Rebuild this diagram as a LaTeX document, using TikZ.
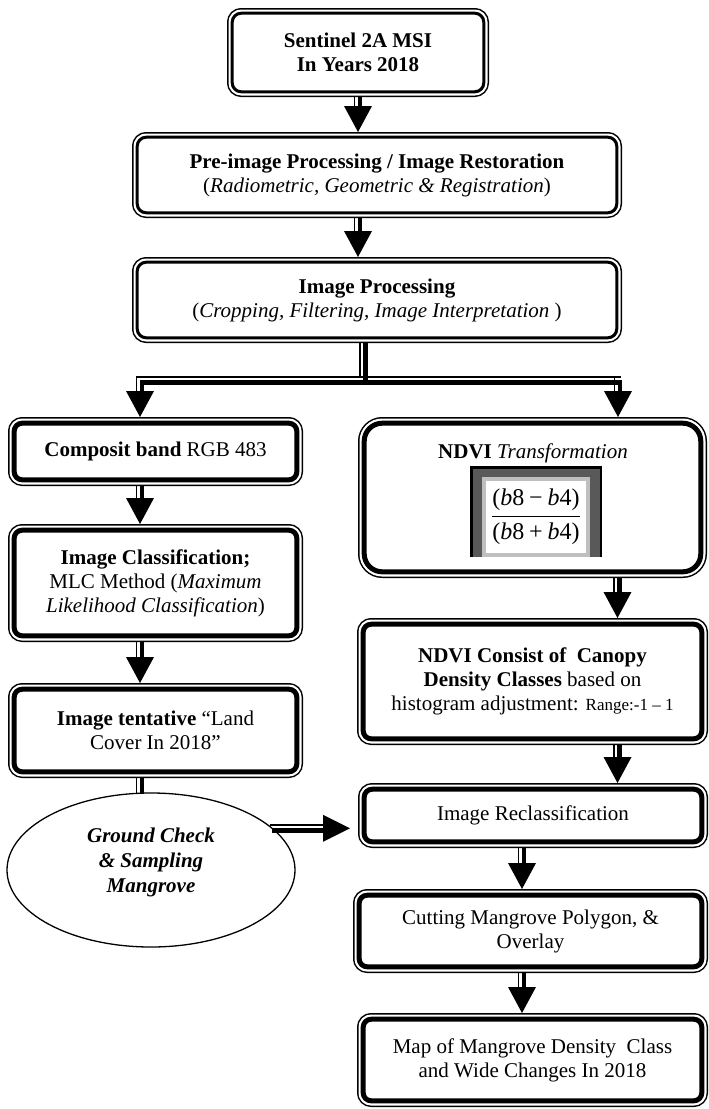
\documentclass[tikz,border=0pt]{standalone}
\usepackage{fontspec}
\setmainfont{Liberation Serif}
\usetikzlibrary{calc,shapes.geometric}
\newcommand\varr[2]{%
  \draw[thinstem] ($(#1)+(-3.5,0)$) -- ($(#2)+(-3.5,-25)$);
  \draw[thickstem] ($(#1)+(2,0)$) -- ($(#2)+(2,-25)$);
  \fill ($(#2)+(-14,-26)$) -- ($(#2)+(14,-26)$) -- (#2) -- cycle;
}
\begin{document}
\begin{tikzpicture}[x=1pt,y=-1pt,
  font=\fontsize{21}{24}\selectfont,
  medbox/.style={draw=black, fill=white, line width=3pt, rounded corners=9pt,
     inner sep=0pt, outer sep=5.2pt, align=center,
     preaction={draw=black, line width=10.4pt},
     preaction={draw=white, line width=7.4pt}},
  thkbox/.style={draw=black, fill=white, line width=5pt, rounded corners=8pt,
     inner sep=0pt, outer sep=6.2pt, align=center,
     preaction={draw=black, line width=12.4pt},
     preaction={draw=white, line width=9.4pt}},
  thinstem/.style={line width=1.4pt},
  thickstem/.style={line width=4.5pt},
]
\useasboundingbox (0,0) rectangle (709,1109);
\fill[white] (0,0) rectangle (709,1109);

% boxes
\node[medbox, minimum width=251.6, minimum height=78.6] (b1) at (358,52.5)
  {\textbf{Sentinel 2A MSI}\\\textbf{In Years 2018}};
\node[medbox, minimum width=479.6, minimum height=75.6] (b2) at (377,175)
  {\textbf{Pre-image Processing / Image Restoration}\\(\textit{Radiometric, Geometric \& Registration})};
\node[medbox, minimum width=479.6, minimum height=75.6] (b3) at (377,300)
  {\textbf{Image Processing}\\(\textit{Cropping, Filtering, Image Interpretation} )};

\node[thkbox, minimum width=282.6, minimum height=56.6] (cb) at (155.5,451.5)
  {\textbf{Composit band} RGB 483};
\node[thkbox, minimum width=282.6, minimum height=105.6] (ic) at (155.5,583)
  {\textbf{Image Classification;}\\MLC Method (\textit{Maximum}\\\textit{Likelihood Classification})};
\node[thkbox, minimum width=282.6, minimum height=82.6] (it) at (155.5,730.5)
  {\textbf{Image tentative} “Land\\Cover In 2018”};

\node[thkbox, rounded corners=18pt, minimum width=336.6, minimum height=148.6] (nd) at (532.5,497.5) {};
\node (ndt) at (533,453) {\textbf{NDVI} \textit{Transformation}};
\fill[black] (470,466) rectangle (602,557);
\fill[black!65] (472.5,468.5) rectangle (599.5,557);
\fill[black!25] (482,477) rectangle (590,557);
\fill[white] (486,481) rectangle (586,553);
\node (frac) at (536,517) {\fontsize{24}{28}\selectfont
  $\displaystyle\frac{\mbox{(\textit{b}8\hspace{0.2em}−\hspace{0.2em}\textit{b}4)}}{\mbox{(\textit{b}8\hspace{0.2em}+\hspace{0.2em}\textit{b}4)}}$};

\node[thkbox, minimum width=338.6, minimum height=114.6] (nc) at (532.5,681.5)
  {\textbf{NDVI Consist of~ Canopy}\\\textbf{Density Classes} based on\\histogram adjustment: {\fontsize{17}{24}\selectfont Range:-1 – 1}};
\node[thkbox, minimum width=337.6, minimum height=52.6] (rc) at (533,815.5)
  {Image Reclassification};
\node[thkbox, minimum width=342.6, minimum height=71.6] (cut) at (530.5,931)
  {Cutting Mangrove Polygon, \&\\Overlay};
\node[thkbox, minimum width=338.6, minimum height=81.6] (map) at (532.5,1060)
  {Map of Mangrove Density~ Class\\and Wide Changes In 2018};

\node[draw, ellipse, line width=1.3pt, fill=white, minimum width=288, minimum height=154,
  inner sep=0pt, outer sep=0pt] (gc) at (151,870) {};
\node[font=\fontsize{21}{25}\selectfont\bfseries\itshape, align=center] (gct) at (151,862)
  {Ground Check\\\& Sampling\\Mangrove};

% x positions
\coordinate (x358) at (358,0);
\coordinate (x140) at (140,0);
\coordinate (x617) at (617.5,0);
\coordinate (x522) at (522,0);
\coordinate (sx) at (363.5,0);

% vertical arrows
\varr{b1.south -| x358}{b2.north -| x358}
\varr{b2.south -| x358}{b3.north -| x358}
\varr{cb.south -| x140}{ic.north -| x140}
\varr{ic.south -| x140}{it.north -| x140}
\varr{nd.south -| x617}{nc.north -| x617}
\varr{nc.south -| x617}{rc.north -| x617}
\varr{rc.south -| x522}{cut.north -| x522}
\varr{cut.south -| x522}{map.north -| x522}

% split connector
\coordinate (jL) at (140,377);
\coordinate (jR) at (618,377);
\draw[thinstem] ($(b3.south -| sx)+(-3.5,0)$) -- ($(jL -| sx)+(-3.5,0)$);
\draw[thickstem] ($(b3.south -| sx)+(2,0)$) -- ($(jL -| sx)+(2,5.5)$);
\draw[thinstem] ($(jL)+(-4.2,0)$) -- ($(jR)+(3,0)$);
\draw[line width=5pt] ($(jL)+(-0.25,5.5)$) -- ($(jR)+(4.25,5.5)$);
\draw[thinstem] ($(jL)+(-3.5,-0.7)$) -- ($(cb.north -| jL)+(-3.5,-25)$);
\draw[thickstem] ($(jL)+(2,5.5)$) -- ($(cb.north -| jL)+(2,-25)$);
\fill ($(cb.north -| jL)+(-14,-26)$) -- ($(cb.north -| jL)+(14,-26)$) -- (cb.north -| jL) -- cycle;
\draw[thinstem] ($(jR)+(-3.5,-0.7)$) -- ($(nd.north -| jR)+(-3.5,-25)$);
\draw[thickstem] ($(jR)+(2,5.5)$) -- ($(nd.north -| jR)+(2,-25)$);
\fill ($(nd.north -| jR)+(-14,-26)$) -- ($(nd.north -| jR)+(14,-26)$) -- (nd.north -| jR) -- cycle;

% tentative to ellipse (stem only)
\draw[thinstem] ($(it.south -| x140)+(-3.5,0)$) -- ($(gc.north -| x140)+(-3.5,0.5)$);
\draw[thickstem] ($(it.south -| x140)+(2,0)$) -- ($(gc.north -| x140)+(2,0.5)$);

% ellipse to reclassification
\coordinate (T) at ($(rc.west |- gc.19)+(-8,0)$);
\draw[thinstem] ($(gc.19)+(-2,-3.5)$) -- ($(T)+(-26,-3.5)$);
\draw[thickstem] ($(gc.19)+(0,2)$) -- ($(T)+(-26,2)$);
\fill ($(T)+(-27,-13.5)$) -- ($(T)+(-27,13.5)$) -- (T) -- cycle;
\end{tikzpicture}
\end{document}
